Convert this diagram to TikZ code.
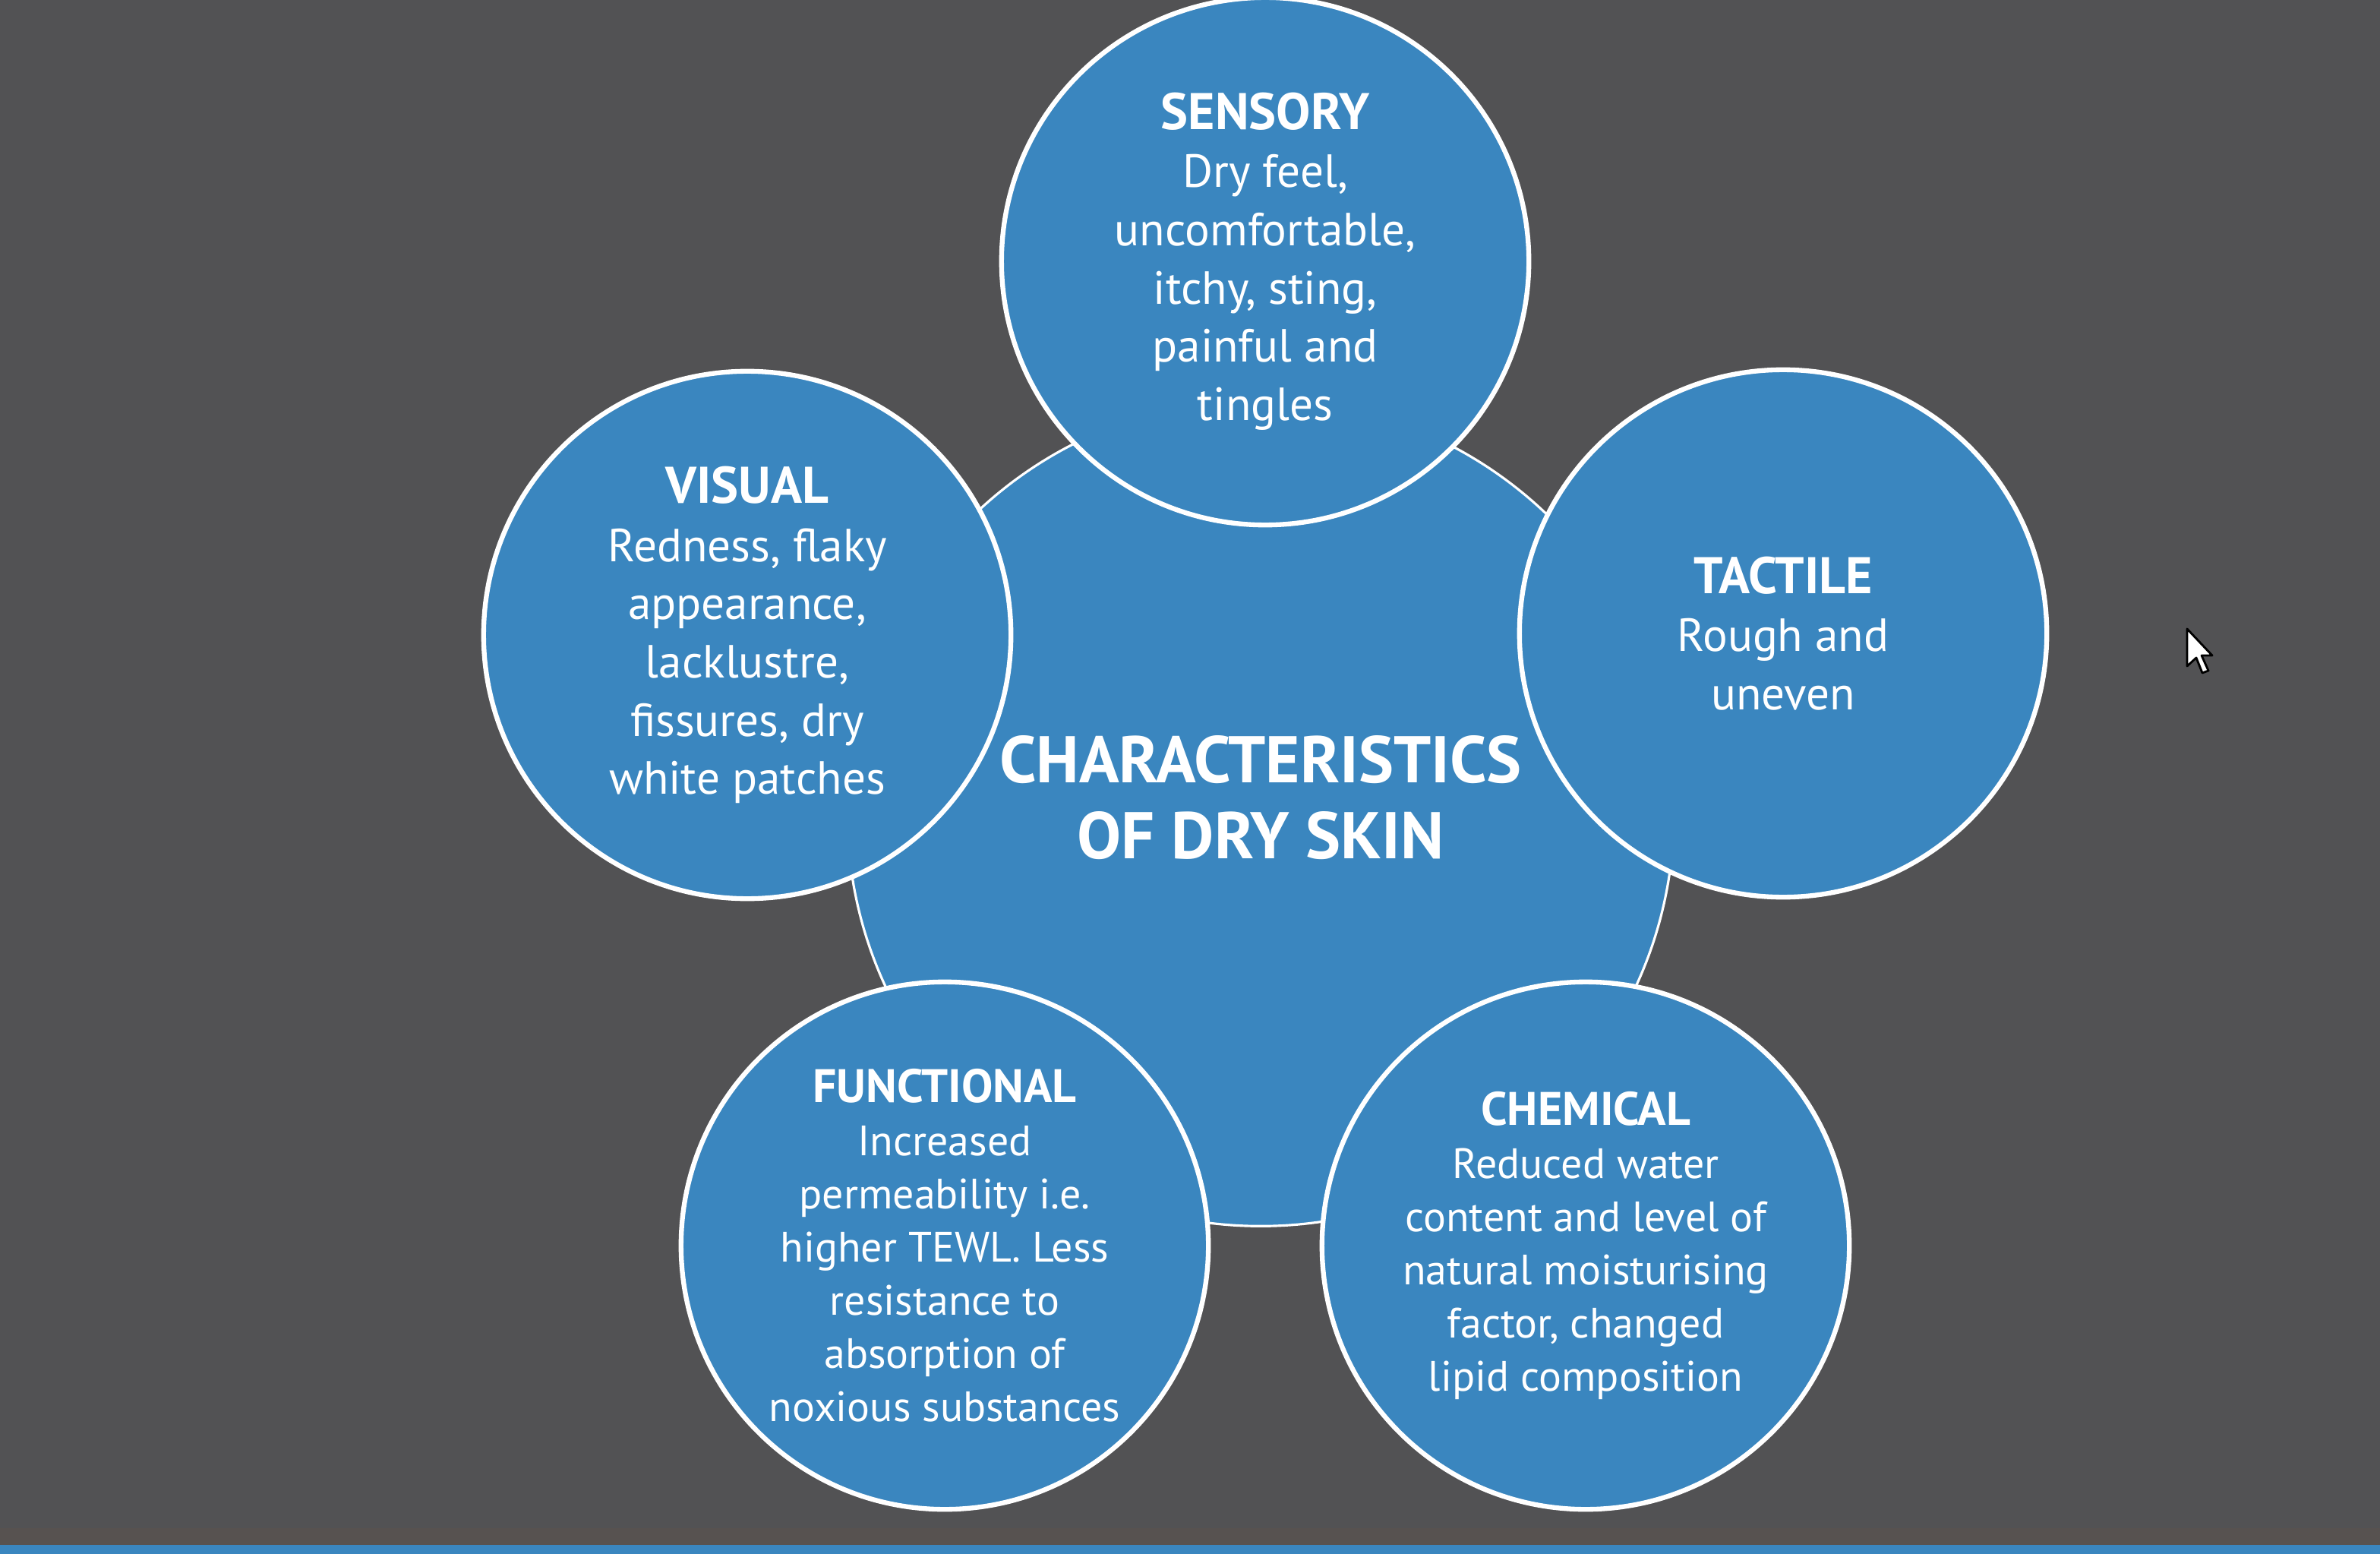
\documentclass[tikz,border=0pt]{standalone}
\usepackage{fontspec}
\setmainfont{PT Sans}
\definecolor{slideGray}{RGB}{82,82,84}
\definecolor{skinBlue}{RGB}{58,134,191}
\definecolor{stripBrown}{RGB}{87,82,80}

\def\wMax{3134}
\def\hMax{2046}

\begin{document}
\begin{tikzpicture}[x=0.01cm, y=-0.01cm,
    hubCircle/.style={circle, draw=white, line width=0.9pt, fill=skinBlue,
      minimum size=10.88cm, inner sep=0pt},
    hubTitle/.style={text=white, align=center, inner sep=0pt,
      font=\bfseries\fontsize{24.7}{28.5}\selectfont},
    petal/.style={circle, draw=white, line width=1.8pt, fill=skinBlue,
      minimum size=6.94cm, inner sep=0pt, text=white, align=center,
      font=\fontsize{17.4}{21.8}\selectfont},
    smallPetal/.style={petal, font=\fontsize{15.9}{19.9}\selectfont}]
      \useasboundingbox (0,0) rectangle (\wMax,\hMax);
      \fill[slideGray] (0,0) rectangle (\wMax,\hMax);
      \fill[stripBrown] (0,2012) rectangle (\wMax,2034);
      \fill[skinBlue] (0,2034) rectangle (\wMax,\hMax);

      \node[hubCircle] (hub) at (1660,1070) {};
      \node[hubTitle] (title) at (1660,1050) {CHARACTERISTICS\\OF DRY SKIN};

      \node[petal] (sensory) at (1666,344)
        {{\bfseries\fontsize{19.3}{21.8}\selectfont SENSORY}\\Dry feel,\\uncomfortable,\\itchy, sting,\\painful and\\tingles};
      \node[petal] (tactile) at (2348,834)
        {{\bfseries\fontsize{19.3}{21.8}\selectfont TACTILE}\\Rough and\\uneven};
      \node[petal] (visual) at (984,836)
        {{\bfseries\fontsize{19.3}{21.8}\selectfont VISUAL}\\Redness, flaky\\appearance,\\lacklustre,\\fissures, dry\\white patches};
      \node[smallPetal] (functional) at (1244,1640)
        {{\bfseries\fontsize{17.6}{19.9}\selectfont FUNCTIONAL}\\Increased\\permeability i.e.\\higher TEWL. Less\\resistance to\\absorption of\\noxious substances};
      \node[smallPetal] (chemical) at (2088,1640)
        {{\bfseries\fontsize{17.6}{19.9}\selectfont CHEMICAL}\\Reduced water\\content and level of\\natural moisturising\\factor, changed\\lipid composition};

      % mouse pointer
      \draw[fill=white, line width=0.8pt, line join=round]
        (2880,828) -- (2880,877) -- (2892,866) -- (2900,886) -- (2908,883) --
        (2899,863) -- (2913,863) -- cycle;
    \end{tikzpicture}
\end{document}
